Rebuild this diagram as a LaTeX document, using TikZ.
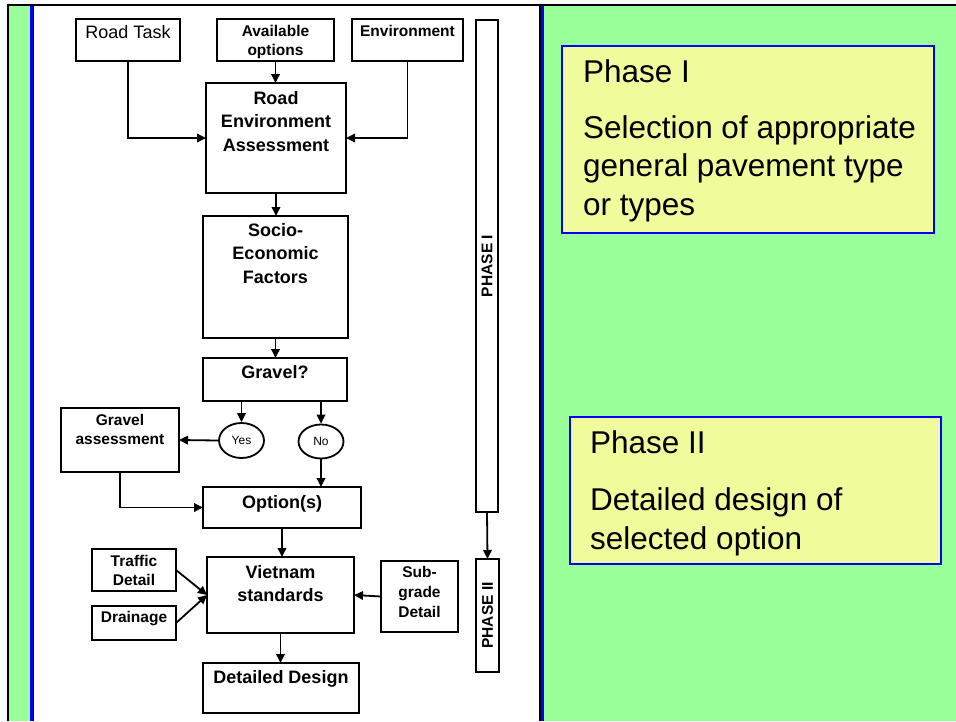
\documentclass[tikz,border=0pt]{standalone}
\usepackage{fontspec}
\setmainfont{Liberation Sans}
\usetikzlibrary{arrows.meta, shapes.geometric}

\begin{document}
\begin{tikzpicture}[x=1pt, y=-1pt,
    box/.style={draw, line width=1.8pt, inner sep=0pt, outer sep=0pt, anchor=north west},
    bigtxt/.style={anchor=north, align=center, inner sep=0pt, font=\bfseries\fontsize{18}{23.5}\selectfont},
    smalltxt/.style={anchor=north, align=center, inner sep=0pt, font=\bfseries\fontsize{15.5}{19}\selectfont},
    choice/.style={ellipse, draw, line width=1.8pt, minimum width=45, minimum height=35, inner sep=0pt, font=\fontsize{12}{14}\selectfont},
    arr/.style={-{Triangle[length=9pt, width=8.5pt]}, line width=1.8pt},
    note/.style={draw=frameblue, line width=2.5pt, fill=noteyellow, inner sep=0pt, outer sep=0pt, anchor=north west},
    notetxt/.style={anchor=north west, align=left, inner sep=0pt, font=\fontsize{31.5}{38.5}\selectfont}]

%my colors
\definecolor{slidegreen}{RGB}{153,255,153}
\definecolor{noteyellow}{RGB}{240,251,155}
\definecolor{frameblue}{RGB}{0,0,255}

    \useasboundingbox (0,0) rectangle (956,721);

    % Slide background and frame
    \fill[white] (0,0) rectangle (956,721);
    \fill[slidegreen] (9,6) rectangle (30,721);
    \fill[frameblue] (30,6) rectangle (33,721);
    \fill[black] (33,6) rectangle (34,721);
    \fill[black] (539,6) rectangle (540.5,721);
    \fill[frameblue] (540.5,6) rectangle (544,721);
    \fill[slidegreen] (544,6) rectangle (956,721);
    \draw[line width=2pt] (8,721) -- (8,5) -- (956,5);

    % Inputs
    \node[box, minimum width=104, minimum height=42,
          label={[bigtxt, font=\fontsize{18}{22}\selectfont, yshift=-6]north:Road Task}] (task) at (76,19) {};
    \node[box, minimum width=117, minimum height=42,
          label={[smalltxt, yshift=-6]north:Available\\options}] (avail) at (217,19) {};
    \node[box, minimum width=111, minimum height=42,
          label={[smalltxt, yshift=-6]north:Environment}] (env) at (352,19) {};

    % Main chain
    \node[box, minimum width=140, minimum height=110,
          label={[bigtxt, yshift=-8]north:Road\\Environment\\Assessment}] (rea) at (206,83) {};
    \node[box, minimum width=145, minimum height=122,
          label={[bigtxt, yshift=-7]north:Socio-\\Economic\\Factors}] (socio) at (203,216) {};
    \node[box, minimum width=144, minimum height=43,
          label={[bigtxt, yshift=-7]north:Gravel?}] (gravel) at (203,358) {};

    % Yes / No
    \node[choice] (yes) at (241.5,440.5) {Yes};
    \node[choice, minimum height=34] (no) at (321,441.5) {No};
    \node[box, minimum width=118, minimum height=64,
          label={[smalltxt, yshift=-6]north:Gravel\\assessment}] (gassess) at (61,408) {};

    \node[box, minimum width=158, minimum height=41,
          label={[bigtxt, yshift=-8]north:Option(s)}] (option) at (203,487) {};

    % Design inputs
    \node[box, minimum width=84, minimum height=42,
          label={[smalltxt, yshift=-6]north:Traffic\\Detail}] (traffic) at (92,549) {};
    \node[box, minimum width=84, minimum height=34,
          label={[smalltxt, yshift=-5]north:Drainage}] (drainage) at (92,606) {};
    \node[box, minimum width=147, minimum height=76,
          label={[bigtxt, yshift=-8]north:Vietnam\\standards}] (vietnam) at (207,557) {};
    \node[box, minimum width=77, minimum height=71,
          label={[smalltxt, font=\bfseries\fontsize{15.5}{20}\selectfont, yshift=-5]north:Sub-\\grade\\Detail}] (subgrade) at (381,561) {};
    \node[box, minimum width=156, minimum height=50,
          label={[bigtxt, yshift=-7]north:Detailed Design}] (detail) at (203,663) {};

    % Phase bars
    \node[box, minimum width=22, minimum height=492,
          label={[smalltxt, rotate=90, anchor=center]center:PHASE I}] (phaseI) at (476,20) {};
    \node[box, minimum width=23, minimum height=113,
          label={[smalltxt, rotate=90, anchor=center]center:PHASE II}] (phaseII) at (476,559) {};

    % Draw the connectors
    \draw[arr] (task.south) |- (rea.west);
    \draw[arr] (env.south) |- (rea.east);
    \draw[arr] (avail.south) -- (avail.south |- rea.north);
    \draw[arr] (rea.south) -- (rea.south |- socio.north);
    \draw[arr] (socio.south) -- (socio.south |- gravel.north);
    \draw[arr] (yes.north |- gravel.south) -- (yes.north);
    \draw[arr] (no.north |- gravel.south) -- (no.north);
    \draw[arr] (yes.west) -- (gassess.east);
    \draw[arr] (gassess.south) |- (option.west);
    \draw[arr] (no.south) -- (no.south |- option.north);
    \draw[arr] (option.south) -- (option.south |- vietnam.north);
    \draw[arr] (traffic.east) -- (vietnam.west);
    \draw[arr] (drainage.east) -- (vietnam.west);
    \draw[arr] (subgrade.west) -- (vietnam.east);
    \draw[arr] (vietnam.south) -- (vietnam.south |- detail.north);
    \draw[arr] (phaseI.south) -- (phaseII.north);

    % Phase notes
    \node[note, minimum width=372, minimum height=187,
          label={[notetxt, xshift=21, yshift=-13]north west:Phase I\\[17.5pt]Selection of appropriate\\general pavement type\\or types}] (noteI) at (562,46) {};
    \node[note, minimum width=371, minimum height=147,
          label={[notetxt, xshift=20, yshift=-13]north west:Phase II\\[19pt]Detailed design of\\selected option}] (noteII) at (570,417) {};

\end{tikzpicture}
\end{document}
